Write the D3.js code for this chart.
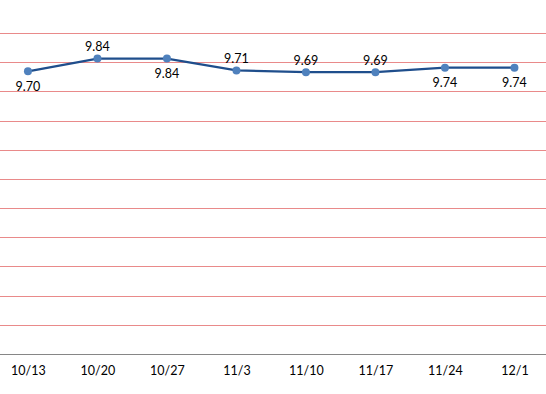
<!DOCTYPE html>
<html><head><meta charset="utf-8">
<script src="https://cdn.jsdelivr.net/npm/d3@7"></script>
<style>body{margin:0;background:#fff;}svg{display:block;font-family:Lato,"Open Sans",sans-serif;}</style>
</head><body>
<svg id="c" width="546" height="394"></svg>
<script>
const categories = ["10/13","10/20","10/27","11/3","11/10","11/17","11/24","12/1"];
const values = [9.70, 9.84, 9.84, 9.71, 9.69, 9.69, 9.74, 9.74];
const valueLabels = ["9.70","9.84","9.84","9.71","9.69","9.69","9.74","9.74"];
const labelSide = ["below","above","below","above","above","above","below","below"];
const yMin = 6.6, yMax = 10.12, yStep = 0.32;

const svg = d3.select("#c");
const x = d3.scalePoint().domain(categories).range([-6.8, 549.2]).padding(0.5);
const y = d3.scaleLinear().domain([yMin, yMax]).range([354, 33]);

const gridVals = d3.range(1, 12).map(i => +(yMin + i * yStep).toFixed(2));
svg.append("g").selectAll("line").data(gridVals).join("line")
  .attr("x1", 0).attr("x2", 546)
  .attr("y1", d => Math.round(y(d)) + 0.5).attr("y2", d => Math.round(y(d)) + 0.5)
  .attr("stroke", "#E98A8A").attr("stroke-width", 1);

const xAxis = svg.append("g").attr("transform", `translate(0,${Math.round(y(yMin)) + 0.5})`)
  .call(d3.axisBottom(x).tickSize(0).tickPadding(12));
xAxis.select(".domain").attr("d", "M0,0H546").attr("stroke", "#868686");
xAxis.selectAll("text").attr("font-size", "12.5px").attr("fill", "#000").attr("font-family", "Lato, sans-serif");

const pts = categories.map((c, i) => ({c, v: values[i], l: valueLabels[i], s: labelSide[i]}));
svg.append("path").datum(pts)
  .attr("d", d3.line().x(d => x(d.c)).y(d => y(d.v)))
  .attr("fill", "none").attr("stroke", "#1F4E8C").attr("stroke-width", 2.25);
svg.append("g").selectAll("circle").data(pts).join("circle")
  .attr("cx", d => x(d.c)).attr("cy", d => y(d.v)).attr("r", 4)
  .attr("fill", "#4F81BD");
svg.append("g").selectAll("text").data(pts).join("text")
  .attr("x", d => x(d.c)).attr("y", d => y(d.v) + (d.s === "above" ? -12 : 15))
  .attr("dy", "0.35em").attr("text-anchor", "middle")
  .attr("font-size", "12.5px").attr("fill", "#000").text(d => d.l);
</script>
</body></html>
